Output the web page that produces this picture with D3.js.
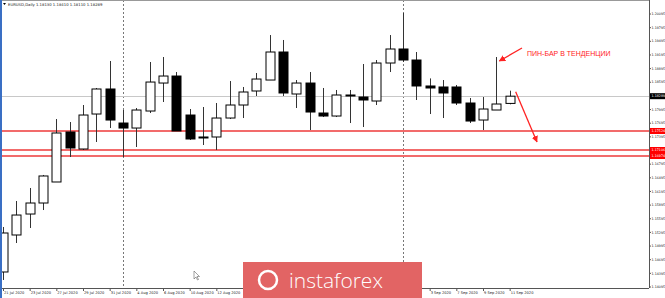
<!DOCTYPE html>
<html>
<head>
<meta charset="utf-8">
<script src="https://cdn.jsdelivr.net/npm/d3@7/dist/d3.min.js"></script>
<style>
  body { margin: 0; background: #fff; }
  svg { display: block; }
</style>
</head>
<body>
<div id="chart"></div>
<script>
// EURUSD daily bars, 21 Jul - 11 Sep 2020
const dates = ["21 Jul","22 Jul","23 Jul","24 Jul","27 Jul","28 Jul","29 Jul","30 Jul","31 Jul",
  "3 Aug","4 Aug","5 Aug","6 Aug","7 Aug","10 Aug","11 Aug","12 Aug","13 Aug","14 Aug",
  "17 Aug","18 Aug","19 Aug","20 Aug","21 Aug","24 Aug","25 Aug","26 Aug","27 Aug","28 Aug",
  "31 Aug","1 Sep","2 Sep","3 Sep","4 Sep","7 Sep","8 Sep","9 Sep","10 Sep","11 Sep"];
const open  = [1.14425,1.15238,1.15699,1.15941,1.16403,1.17502,1.17128,1.17897,1.18447,
  1.17699,1.17589,1.17963,1.18578,1.18732,1.17875,1.17392,1.17392,1.17809,1.18095,
  1.18403,1.18644,1.19260,1.18337,1.18578,1.17919,1.17853,1.18315,1.18271,1.18183,
  1.19018,1.19326,1.19084,1.18513,1.18491,1.18491,1.18139,1.17765,1.17985,1.18130];
const high  = [1.15414,1.15985,1.16271,1.16557,1.17787,1.17721,1.18095,1.18469,1.19062,
  1.17985,1.18029,1.19040,1.19150,1.18820,1.18007,1.18051,1.18139,1.18622,1.18491,
  1.18798,1.19633,1.19524,1.18644,1.18820,1.18469,1.18425,1.18425,1.18996,1.19084,
  1.19633,1.20117,1.19260,1.18680,1.18644,1.18535,1.18249,1.18271,1.19150,1.18410];
const low   = [1.14249,1.15062,1.15392,1.15787,1.16403,1.16952,1.17106,1.17282,1.17589,
  1.16952,1.17172,1.17919,1.18161,1.17524,1.17326,1.17216,1.17106,1.17787,1.17809,
  1.18293,1.18644,1.18293,1.18029,1.17545,1.17831,1.17831,1.17699,1.17611,1.18095,
  1.18820,1.19040,1.18205,1.17897,1.17809,1.18095,1.17699,1.17545,1.17985,1.18110];
const close = [1.15282,1.15677,1.15941,1.16535,1.17480,1.17150,1.17875,1.18447,1.17765,
  1.17589,1.17985,1.18600,1.18732,1.17524,1.17348,1.17370,1.17809,1.18095,1.18381,
  1.18666,1.19260,1.18359,1.18578,1.17941,1.17853,1.18315,1.18293,1.18205,1.19018,
  1.19326,1.19084,1.18513,1.18469,1.18359,1.18139,1.17743,1.18007,1.18117,1.18289];

const priceTicks = ["1.20095","1.19795","1.19495","1.19195","1.18895","1.18595","1.18295",
  "1.17995","1.17695","1.17395","1.17095","1.16795","1.16495","1.16195","1.15895","1.15595",
  "1.15295","1.14995","1.14695","1.14395","1.14095"];
// labels between 12 Aug and 3 Sep sit under the broker logo in the screenshot
const dateTicks = ["21 Jul","23 Jul","27 Jul","29 Jul","31 Jul","4 Aug","6 Aug","10 Aug","12 Aug",
  "3 Sep","7 Sep","9 Sep","11 Sep"];
const separators = ["3 Aug", "1 Sep"];
const levels = [1.17524, 1.17106, 1.16974];
const header = "EURUSD,Daily  1.18130 1.18410 1.18110 1.18289";
const note = "ПИН-БАР В ТЕНДЕНЦИИ";

const width = 665, height = 298;
const plot = { left: 2, right: 649, top: 0, bottom: 288 };

const svg = d3.select("#chart").append("svg")
  .attr("width", width).attr("height", height)
  .style("font-family", "Tahoma, 'DejaVu Sans', sans-serif");

const x = d3.scalePoint().domain(dates).range([3, 509.67]);
const y = d3.scaleLinear().domain([1.14073, 1.20403]).range([plot.bottom, plot.top]);
const bodyW = 9;

svg.append("defs").append("clipPath").attr("id", "clip")
  .append("rect").attr("x", plot.left).attr("y", plot.top)
  .attr("width", plot.right - plot.left).attr("height", plot.bottom - plot.top);

const g = svg.append("g").attr("clip-path", "url(#clip)");

// period separators
g.selectAll("line.sep").data(separators).join("line")
  .attr("x1", d => x(d) + 0.5).attr("x2", d => x(d) + 0.5)
  .attr("y1", plot.top).attr("y2", plot.bottom)
  .attr("stroke", "#777").attr("stroke-dasharray", "2,2");

// current price line
const last = close[close.length - 1];
g.append("line")
  .attr("x1", plot.left).attr("x2", plot.right)
  .attr("y1", Math.round(y(last)) + 0.5).attr("y2", Math.round(y(last)) + 0.5)
  .attr("stroke", "#c8c8c8");

// support levels
g.selectAll("line.level").data(levels).join("line")
  .attr("x1", plot.left).attr("x2", plot.right)
  .attr("y1", d => y(d)).attr("y2", d => y(d))
  .attr("stroke", "#f26b6b").attr("stroke-width", 2);

// candles
const bars = dates.map((d, i) => ({ d, o: open[i], h: high[i], l: low[i], c: close[i] }));
const candle = g.selectAll("g.candle").data(bars).join("g");
candle.append("line")
  .attr("x1", d => Math.round(x(d.d)) + 0.5).attr("x2", d => Math.round(x(d.d)) + 0.5)
  .attr("y1", d => y(d.h)).attr("y2", d => y(d.l))
  .attr("stroke", "#333");
candle.append("rect")
  .attr("x", d => Math.round(x(d.d)) - bodyW / 2 + 0.5)
  .attr("y", d => y(Math.max(d.o, d.c)))
  .attr("width", bodyW)
  .attr("height", d => Math.max(1, Math.abs(y(d.o) - y(d.c))))
  .attr("fill", d => d.c >= d.o ? "#fff" : "#000")
  .attr("stroke", "#000");

// frame
svg.append("rect").attr("x", 0).attr("y", 0).attr("width", 2).attr("height", height).attr("fill", "#3a6fc4");
svg.append("line").attr("x1", plot.right + 0.5).attr("x2", plot.right + 0.5)
  .attr("y1", 0).attr("y2", plot.bottom).attr("stroke", "#555");
svg.append("line").attr("x1", plot.left).attr("x2", plot.right)
  .attr("y1", plot.bottom + 0.5).attr("y2", plot.bottom + 0.5).attr("stroke", "#555");
svg.append("line").attr("x1", plot.left).attr("x2", plot.right)
  .attr("y1", 0.5).attr("y2", 0.5).attr("stroke", "#999");

// price axis
const boxes = [last].concat(levels).map(v => y(v));
const ticks = priceTicks.filter(t => boxes.every(b => Math.abs(y(+t) - b) > 5));
const yAxis = svg.append("g");
yAxis.selectAll("line").data(ticks).join("line")
  .attr("x1", plot.right).attr("x2", plot.right + 2)
  .attr("y1", d => y(+d)).attr("y2", d => y(+d)).attr("stroke", "#555");
yAxis.selectAll("text").data(ticks).join("text")
  .attr("x", plot.right + 2.5).attr("y", d => y(+d)).attr("dy", "0.35em")
  .attr("font-size", 3.3).attr("fill", "#222").text(d => d);

function priceBox(v, fill) {
  const yy = y(v);
  svg.append("rect").attr("x", plot.right + 1).attr("y", yy - 3).attr("width", 15).attr("height", 6).attr("fill", fill);
  svg.append("text").attr("x", plot.right + 2.5).attr("y", yy).attr("dy", "0.35em")
    .attr("font-size", 3.3).attr("fill", "#fff").text(v.toFixed(5));
}
levels.forEach(v => priceBox(v, "#f00"));
priceBox(last, "#000");

// time axis
const xAxis = svg.append("g");
xAxis.selectAll("line").data(dateTicks).join("line")
  .attr("x1", d => x(d) + 0.5).attr("x2", d => x(d) + 0.5)
  .attr("y1", plot.bottom).attr("y2", plot.bottom + 3).attr("stroke", "#555");
xAxis.selectAll("text").data(dateTicks).join("text")
  .attr("x", d => x(d) + 1).attr("y", plot.bottom + 5.5)
  .attr("font-size", 3.6).attr("fill", "#222").text(d => d + " 2020");

// header
svg.append("path").attr("d", "M3,3 L6,3 L4.5,5 Z").attr("fill", "#000");
svg.append("text").attr("x", 8).attr("y", 5.5).attr("font-size", 3.8).attr("fill", "#222").text(header);

// annotation
svg.append("text").attr("x", 527).attr("y", 55.5).attr("font-size", 7)
  .attr("font-family", "'Liberation Sans', Arial, sans-serif").attr("fill", "#f22").text(note);
svg.append("defs").append("marker").attr("id", "ah").attr("viewBox", "0 0 10 10")
  .attr("refX", 9).attr("refY", 5).attr("markerWidth", 5).attr("markerHeight", 5)
  .attr("orient", "auto").append("path").attr("d", "M0,0 L10,5 L0,10 Z").attr("fill", "#f22");
const i10 = dates.indexOf("10 Sep"), i11 = dates.indexOf("11 Sep");
svg.append("line").attr("x1", 522).attr("y1", 48).attr("x2", x(dates[i10]) + 3).attr("y2", y(high[i10]) + 4)
  .attr("stroke", "#f22").attr("stroke-width", 1.3).attr("marker-end", "url(#ah)");
svg.append("line").attr("x1", x(dates[i11]) + 6).attr("y1", y(high[i11]) + 1).attr("x2", 537).attr("y2", 142)
  .attr("stroke", "#f22").attr("stroke-width", 1.3).attr("marker-end", "url(#ah)");

// mouse cursor
svg.append("path").attr("d", "M194,271 L194,279 L196,277 L197.5,280 L198.5,279.5 L197,276.5 L199.5,276.5 Z")
  .attr("fill", "#fff").attr("stroke", "#444").attr("stroke-width", 0.5);

// instaforex logo
const logo = svg.append("g");
logo.append("rect").attr("x", 243).attr("y", 262).attr("width", 179).attr("height", 36).attr("fill", "#e26464");
logo.append("circle").attr("cx", 268).attr("cy", 280).attr("r", 9).attr("fill", "none").attr("stroke", "#fff").attr("stroke-width", 2.5);
logo.append("text").attr("x", 289).attr("y", 288).attr("font-size", 21)
  .attr("font-family", "'Open Sans', sans-serif").attr("font-weight", 300).attr("fill", "#fff").text("instaforex");
</script>
</body>
</html>
